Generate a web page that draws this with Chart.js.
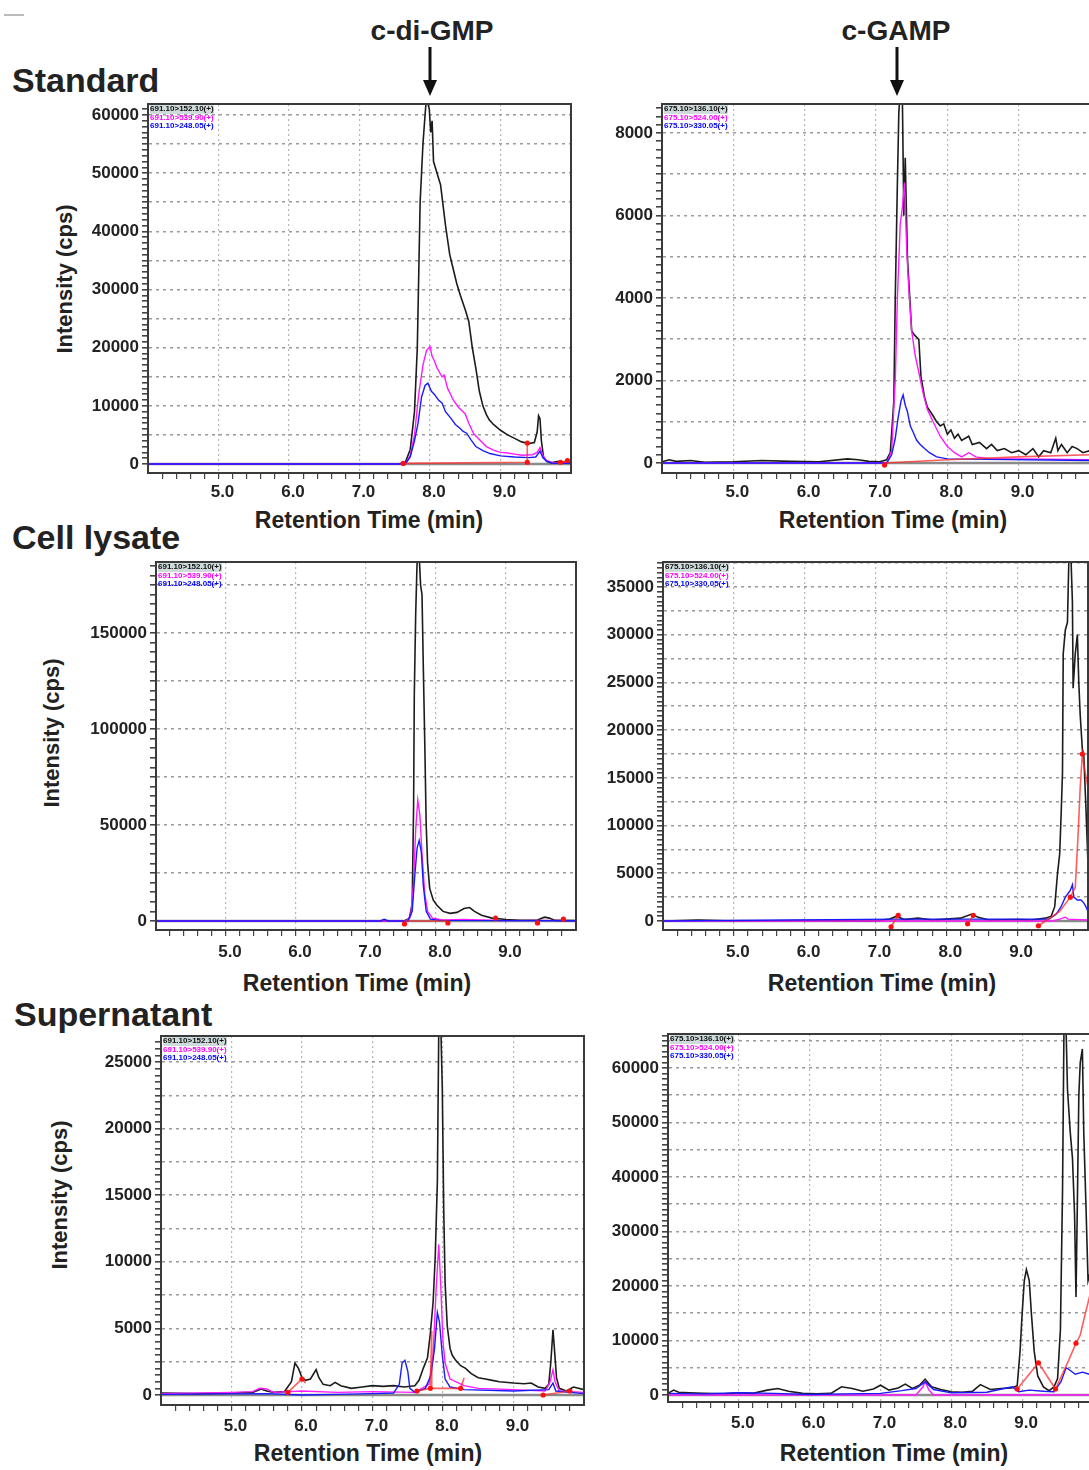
<!DOCTYPE html>
<html>
<head>
<meta charset="utf-8">
<script src="https://cdn.jsdelivr.net/npm/chart.js@4.4.1/dist/chart.umd.min.js"></script>
<style>
  html, body { margin: 0; padding: 0; background: #fff; overflow: hidden; }
  #page { position: relative; width: 1089px; height: 1470px; overflow: hidden; font-family: "Liberation Sans", Arial, sans-serif; color: #222; }
  #page canvas { position: absolute; }
  .lbl { position: absolute; font-weight: bold; line-height: 1; white-space: nowrap; }
  .rowname { font-size: 34px; }
  .compound { font-size: 28px; transform: translateX(-50%); }
  .xtitle { font-size: 23px; transform: translateX(-50%); }
  .ytitle { font-size: 22px; transform: translate(-50%, -50%) rotate(-90deg); }
  .legend { position: absolute; font-size: 8px; line-height: 8.5px; font-weight: bold; white-space: nowrap; }
  .legend div:first-child { background: #cfdada; }
</style>
</head>
<body>
<div id="page">
  <div style="position:absolute;left:4px;top:14px;width:20px;height:2px;background:#bbb"></div>
  <div class="lbl compound" style="left:432px;top:17px">c-di-GMP</div>
  <div class="lbl compound" style="left:896px;top:17px">c-GAMP</div>
  <svg style="position:absolute;left:0;top:0" width="1089" height="110">
    <g stroke="#111" stroke-width="3" fill="#111">
      <line x1="430" y1="47" x2="430" y2="84" />
      <polygon points="423,80 437,80 430,96" stroke="none" />
      <line x1="897" y1="47" x2="897" y2="84" />
      <polygon points="890,80 904,80 897,96" stroke="none" />
    </g>
  </svg>
  <div class="lbl rowname" style="left:12px;top:63px">Standard</div>
  <div class="lbl rowname" style="left:12px;top:520px">Cell lysate</div>
  <div class="lbl rowname" style="left:14px;top:997px">Supernatant</div>

  <div class="lbl xtitle" style="left:369px;top:509px">Retention Time (min)</div>
  <div class="lbl xtitle" style="left:893px;top:509px">Retention Time (min)</div>
  <div class="lbl xtitle" style="left:357px;top:972px">Retention Time (min)</div>
  <div class="lbl xtitle" style="left:882px;top:972px">Retention Time (min)</div>
  <div class="lbl xtitle" style="left:368px;top:1442px">Retention Time (min)</div>
  <div class="lbl xtitle" style="left:894px;top:1442px">Retention Time (min)</div>

  <div class="lbl ytitle" style="left:65px;top:279px">Intensity (cps)</div>
  <div class="lbl ytitle" style="left:52px;top:733px">Intensity (cps)</div>
  <div class="lbl ytitle" style="left:60px;top:1195px">Intensity (cps)</div>
</div>

<script>
// retention time axis
const timeLabels = [5, 6, 7, 8, 9];

// MRM transitions shown in each panel
const gmpTransitions = ['691.10>152.10(+)', '691.10>539.90(+)', '691.10>248.05(+)'];
const gampTransitions = ['675.10>136.10(+)', '675.10>524.00(+)', '675.10>330.05(+)'];

// y tick labels
const stdGmpYLabels = [0, 10000, 20000, 30000, 40000, 50000, 60000];
const stdGampYLabels = [0, 2000, 4000, 6000, 8000];
const lysGmpYLabels = [0, 50000, 100000, 150000];
const lysGampYLabels = [0, 5000, 10000, 15000, 20000, 25000, 30000, 35000];
const supGmpYLabels = [0, 5000, 10000, 15000, 20000, 25000];
const supGampYLabels = [0, 10000, 20000, 30000, 40000, 50000, 60000];

// ---- Standard, c-di-GMP ----  [time (min), intensity (cps)]
const stdGmpA = [[4.0,0],[7.55,0],[7.65,300],[7.72,2500],[7.78,9000],[7.82,20000],[7.86,45000],[7.9,55000],[7.93,60000],[7.95,63000],[7.99,61000],[8.01,57000],[8.03,59000],[8.05,52000],[8.1,50000],[8.15,48000],[8.17,46000],[8.22,41000],[8.28,36000],[8.32,34000],[8.38,31000],[8.43,29000],[8.5,26500],[8.55,24500],[8.6,20000],[8.65,16500],[8.7,12500],[8.75,10000],[8.8,8500],[8.84,7600],[8.9,6800],[9.0,5800],[9.1,5000],[9.2,4400],[9.3,3800],[9.4,3500],[9.48,3700],[9.52,5500],[9.54,8300],[9.56,7800],[9.58,4000],[9.61,1200],[9.66,400],[9.72,200],[9.8,400],[10.0,300]];
const stdGmpB = [[4.0,0],[7.65,0],[7.72,1500],[7.78,5000],[7.84,12000],[7.9,17000],[7.95,19500],[8.0,20200],[8.03,18500],[8.06,17800],[8.1,16500],[8.17,15000],[8.2,15300],[8.25,13000],[8.33,11000],[8.4,9800],[8.5,8600],[8.55,7000],[8.62,5200],[8.7,4200],[8.8,3000],[8.9,2400],[9.0,2000],[9.1,1900],[9.2,1700],[9.3,1500],[9.45,1600],[9.52,2000],[9.56,2800],[9.6,1500],[9.65,600],[9.75,200],[10.0,200]];
const stdGmpC = [[4.0,0],[7.65,0],[7.72,1200],[7.78,4000],[7.83,7000],[7.88,11500],[7.93,13500],[7.97,13900],[8.02,12500],[8.06,12000],[8.12,11000],[8.17,10500],[8.22,9000],[8.3,7800],[8.36,6800],[8.42,6200],[8.47,5600],[8.52,5300],[8.58,4200],[8.65,3000],[8.75,2300],[8.85,1800],[9.0,1400],[9.2,1200],[9.4,1100],[9.5,1200],[9.56,2200],[9.6,1100],[9.65,500],[9.75,100],[10.0,100]];
const stdGmpBase = [[7.62,100],[9.38,300],[9.38,3600],[9.6,null],[9.82,300],[10.0,500]];
const stdGmpMarks = [[7.62,100],[9.38,300],[9.38,3600],[9.85,300],[9.95,600]];

// ---- Standard, c-GAMP ----
const stdGampA = [[4.0,30],[4.1,80],[4.2,40],[4.4,60],[4.6,20],[5.0,30],[5.4,60],[5.8,40],[6.2,30],[6.6,100],[6.75,80],[6.9,40],[7.05,30],[7.15,80],[7.2,250],[7.25,1500],[7.27,4000],[7.3,6800],[7.32,8500],[7.34,9000],[7.37,8800],[7.39,6000],[7.41,7400],[7.44,5000],[7.47,4100],[7.5,3200],[7.54,3100],[7.6,3000],[7.63,2100],[7.68,1600],[7.72,1350],[7.78,1200],[7.85,1000],[7.9,900],[7.95,950],[8.0,700],[8.05,800],[8.1,600],[8.15,700],[8.2,550],[8.3,650],[8.35,450],[8.45,500],[8.55,350],[8.62,450],[8.7,300],[8.8,350],[8.9,250],[9.0,300],[9.1,200],[9.2,350],[9.28,150],[9.35,300],[9.45,250],[9.52,600],[9.55,300],[9.6,450],[9.68,250],[9.75,400],[9.82,350],[9.9,250],[10.0,300]];
const stdGampB = [[4.0,0],[7.15,0],[7.22,300],[7.27,2000],[7.3,4000],[7.34,5800],[7.37,6200],[7.4,6800],[7.43,5200],[7.46,4200],[7.5,3200],[7.55,2600],[7.6,2200],[7.66,1700],[7.72,1300],[7.8,1000],[7.9,650],[8.0,400],[8.1,250],[8.2,150],[8.3,250],[8.4,150],[8.6,100],[9.0,100],[10.0,80]];
const stdGampC = [[4.0,0],[7.15,0],[7.22,200],[7.27,600],[7.31,1100],[7.35,1500],[7.38,1650],[7.41,1400],[7.44,1250],[7.48,900],[7.52,750],[7.57,550],[7.62,450],[7.68,350],[7.75,250],[7.85,150],[8.0,100],[10.0,60]];
const stdGampBase = [[7.12,0],[8.0,80],[9.0,150],[10.0,200]];
const stdGampMarks = [[7.12,-50]];

// ---- Cell lysate, c-di-GMP ----
const lysGmpA = [[4.0,0],[7.55,0],[7.62,1500],[7.66,9000],[7.68,60000],[7.69,118000],[7.71,160000],[7.73,187000],[7.76,190000],[7.78,175000],[7.8,170000],[7.82,130000],[7.84,92000],[7.86,50000],[7.88,30000],[7.91,17000],[7.96,11000],[8.01,8300],[8.1,5000],[8.2,4000],[8.3,4500],[8.4,6500],[8.48,7000],[8.55,5000],[8.65,3000],[8.8,1500],[9.0,800],[9.2,400],[9.45,500],[9.55,2000],[9.62,1500],[9.7,300],[10.0,200]];
const lysGmpB = [[4.0,0],[7.58,0],[7.64,3000],[7.68,20000],[7.71,48000],[7.74,63000],[7.77,55000],[7.8,35000],[7.84,14000],[7.88,5000],[7.95,1500],[8.1,500],[8.4,800],[9.0,200],[9.5,300],[10.0,200]];
const lysGmpC = [[4.0,0],[7.2,0],[7.26,900],[7.32,0],[7.6,0],[7.66,5000],[7.7,25000],[7.73,38000],[7.76,42000],[7.79,36000],[7.82,18000],[7.86,5000],[7.92,1000],[8.05,300],[10.0,100]];
const lysGmpBase = [[7.55,0],[8.17,0]];
const lysGmpMarks = [[7.55,-1500],[8.17,-1000],[8.85,1500],[9.45,-1000],[9.82,1000]];

// ---- Cell lysate, c-GAMP ----
const lysGampA = [[4.0,0],[4.5,100],[5.0,0],[6.0,50],[7.0,0],[7.2,200],[7.3,500],[7.4,150],[7.6,300],[7.8,100],[8.0,200],[8.2,300],[8.35,700],[8.45,400],[8.6,100],[9.0,150],[9.2,100],[9.4,300],[9.48,500],[9.53,1500],[9.57,5000],[9.6,7000],[9.62,11000],[9.64,15600],[9.65,28000],[9.68,30500],[9.71,31300],[9.73,38000],[9.76,38000],[9.78,33400],[9.79,24400],[9.82,28000],[9.85,30000],[9.87,25000],[9.89,21600],[9.92,18000],[9.94,17400],[9.97,12000],[10.0,5900]];
const lysGampB = [[4.0,0],[9.5,0],[9.6,200],[9.68,400],[9.72,200],[10.0,100]];
const lysGampC = [[4.0,0],[7.3,200],[8.4,200],[9.45,200],[9.55,700],[9.62,1500],[9.68,2500],[9.71,2800],[9.75,3200],[9.78,3800],[9.8,2500],[9.85,2200],[9.9,2200],[9.94,1900],[9.97,1500],[10.0,1000]];
const lysGampBase = [[7.22,-600],[7.32,600],[7.4,null],[8.3,-300],[8.38,600],[8.5,null],[9.3,-500],[9.6,1000],[9.75,2500],[9.82,3500],[9.86,9000],[9.89,14000],[9.92,17500],[9.95,16000],[10.0,14000]];
const lysGampMarks = [[7.22,-600],[7.32,600],[8.3,-300],[8.38,600],[9.3,-500],[9.75,2500],[9.92,17500]];

// ---- Supernatant, c-di-GMP ----
const supGmpA = [[4.0,150],[4.5,100],[5.0,150],[5.3,200],[5.42,450],[5.5,300],[5.6,200],[5.75,250],[5.85,1000],[5.9,2400],[5.95,2000],[6.0,1300],[6.05,1100],[6.12,1200],[6.2,1900],[6.24,1300],[6.3,800],[6.4,700],[6.47,950],[6.55,700],[6.7,500],[6.85,600],[7.0,700],[7.15,650],[7.3,700],[7.45,600],[7.6,700],[7.66,1100],[7.72,2000],[7.78,2800],[7.82,4600],[7.86,7000],[7.89,10400],[7.92,16000],[7.94,27500],[7.97,27500],[7.99,23000],[8.01,14000],[8.03,8400],[8.06,5200],[8.1,3500],[8.13,3000],[8.18,2600],[8.25,2200],[8.32,2000],[8.4,1600],[8.5,1300],[8.6,1200],[8.7,1100],[8.8,1000],[9.0,900],[9.15,850],[9.25,900],[9.35,600],[9.45,500],[9.5,800],[9.53,2500],[9.56,4900],[9.58,3500],[9.61,1300],[9.65,500],[9.75,300],[9.85,600],[10.0,400]];
const supGmpB = [[4.0,100],[5.0,200],[5.3,250],[5.4,500],[5.5,450],[5.6,200],[6.0,300],[6.5,200],[7.0,250],[7.6,200],[7.8,800],[7.86,3000],[7.9,7700],[7.94,11300],[7.97,8000],[8.0,4000],[8.03,2400],[8.1,1200],[8.3,700],[8.5,500],[9.0,400],[9.45,300],[9.52,1000],[9.56,1900],[9.59,1000],[9.65,300],[10.0,200]];
const supGmpC = [[4.0,50],[5.5,100],[6.0,0],[6.5,50],[7.0,100],[7.3,150],[7.38,800],[7.42,2400],[7.46,2600],[7.5,1800],[7.53,500],[7.6,200],[7.75,500],[7.83,1500],[7.88,3500],[7.92,6200],[7.95,5500],[7.99,3000],[8.03,1200],[8.1,600],[8.3,400],[9.0,300],[9.5,400],[9.56,900],[9.6,300],[10.0,100]];
const supGmpBase = [[5.8,200],[6.0,1200],[6.05,900],[6.2,null],[7.63,300],[7.82,500],[7.84,4800],[7.84,500],[8.25,500],[8.3,1300],[8.4,null],[9.42,0],[9.8,300]];
const supGmpMarks = [[5.8,200],[6.0,1200],[7.63,300],[7.82,500],[8.25,500],[9.42,0],[9.8,300]];

// ---- Supernatant, c-GAMP ----
const supGampA = [[4.0,300],[4.08,900],[4.15,500],[4.3,400],[4.5,300],[4.8,200],[5.0,400],[5.2,300],[5.4,900],[5.55,1200],[5.7,700],[5.9,300],[6.1,200],[6.3,300],[6.45,1500],[6.6,1200],[6.75,700],[6.9,1100],[7.0,1800],[7.12,900],[7.25,1300],[7.35,2000],[7.45,1200],[7.55,1800],[7.63,2900],[7.72,1500],[7.85,1000],[8.0,600],[8.15,500],[8.3,700],[8.41,1900],[8.55,1000],[8.7,1200],[8.85,1300],[8.93,1700],[8.97,8000],[9.0,15000],[9.03,21000],[9.06,23000],[9.1,21000],[9.13,15000],[9.17,8000],[9.22,3500],[9.3,1500],[9.38,800],[9.45,1500],[9.5,3000],[9.54,12000],[9.57,37600],[9.59,67000],[9.62,67000],[9.64,56000],[9.68,48000],[9.71,43500],[9.74,33000],[9.76,18000],[9.78,36000],[9.8,55000],[9.82,61000],[9.85,63500],[9.87,48000],[9.9,35000],[9.93,21000],[9.97,23000],[10.0,20000]];
const supGampB = [[4.0,0],[7.5,0],[7.6,1500],[7.63,2500],[7.68,1000],[7.75,0],[10.0,0]];
const supGampC = [[4.0,300],[4.5,200],[5.0,400],[5.5,300],[6.0,100],[6.5,200],[7.0,300],[7.3,800],[7.5,1200],[7.63,2400],[7.75,1000],[8.0,400],[8.5,500],[8.86,1500],[8.95,600],[9.1,900],[9.3,700],[9.45,600],[9.55,2500],[9.62,5000],[9.68,4500],[9.75,3800],[9.85,4200],[9.95,3800],[10.0,3600]];
const supGampBase = [[8.93,1100],[9.23,5900],[9.47,1100],[9.64,5900],[9.76,9500],[9.82,11000],[9.87,13800],[9.95,18000],[10.0,20500]];
const supGampMarks = [[8.93,1100],[9.23,5900],[9.47,1100],[9.76,9500]];

const AX_W = 110, AX_H = 40, PAD = 6;

// plot-box placement on the page (left, right, top, bottom of the frame) and axis ranges
const panels = [
  { L: 148, R: 571, T: 104, B: 473, xPad: 3, yMin: -1547, yMax: 61890, grid: 5000, yLabels: stdGmpYLabels, lines: [stdGmpA, stdGmpB, stdGmpC], base: stdGmpBase, marks: stdGmpMarks, legend: gmpTransitions },
  { L: 662, R: 1090, T: 104, B: 473, xPad: 3, yMin: -242, yMax: 8703, grid: 1000, yLabels: stdGampYLabels, lines: [stdGampA, stdGampB, stdGampC], base: stdGampBase, marks: stdGampMarks, legend: gampTransitions },
  { L: 156, R: 576, T: 562, B: 930, xPad: 6, yMin: -4688, yMax: 186979, grid: 25000, yLabels: lysGmpYLabels, lines: [lysGmpA, lysGmpB, lysGmpC], base: lysGmpBase, marks: lysGmpMarks, legend: gmpTransitions },
  { L: 663, R: 1088, T: 562, B: 930, xPad: 6, yMin: -943, yMax: 37619, grid: 2500, yLabels: lysGampYLabels, lines: [lysGampA, lysGampB, lysGampC], base: lysGampBase, marks: lysGampMarks, legend: gampTransitions },
  { L: 161, R: 584, T: 1036, B: 1405, xPad: 5, yMin: -751, yMax: 26952, grid: 2500, yLabels: supGmpYLabels, lines: [supGmpA, supGmpB, supGmpC], base: supGmpBase, marks: supGmpMarks, legend: gmpTransitions },
  { L: 668, R: 1093, T: 1034, B: 1402, xPad: 5, yMin: -1284, yMax: 66239, grid: 5000, yLabels: supGampYLabels, lines: [supGampA, supGampB, supGampC], base: supGampBase, marks: supGampMarks, legend: gampTransitions }
];

const traceColors = ['#1c1c1c', '#ff1aff', '#1a1aff'];
const legendColors = ['#111', '#ff00ff', '#0000ff'];

function toPoints(pairs) {
    return pairs.map(function (p) { return { x: p[0], y: p[1] }; });
}

// top/right frame and the zero line
const framePlugin = {
    id: 'frame',
    beforeDatasetsDraw(chart) {
        const { ctx, chartArea: a, scales } = chart;
        const y0 = scales.y.getPixelForValue(0);
        ctx.save();
        ctx.strokeStyle = '#8a8a8a';
        ctx.lineWidth = 2.5;
        ctx.beginPath();
        ctx.moveTo(a.left, y0);
        ctx.lineTo(a.right, y0);
        ctx.stroke();
        ctx.restore();
    },
    afterDraw(chart) {
        const { ctx, chartArea: a } = chart;
        ctx.save();
        ctx.strokeStyle = '#3a3a3a';
        ctx.lineWidth = 2;
        ctx.strokeRect(a.left, a.top, a.right - a.left, a.bottom - a.top);
        ctx.restore();
    }
};

document.addEventListener("DOMContentLoaded", function () {
    const page = document.getElementById('page');
    Chart.defaults.font.family = '"Liberation Sans", Arial, sans-serif';
    Chart.defaults.color = '#222';

    const xTicks = [];
    for (let k = 21; k <= 49; k++) xTicks.push(k / 5);

    panels.forEach(function (p) {
        const canvas = document.createElement('canvas');
        const w = p.R - p.L + AX_W + PAD;
        const h = p.B - p.T + PAD + AX_H;
        canvas.width = w;
        canvas.height = h;
        canvas.style.width = w + 'px';
        canvas.style.height = h + 'px';
        canvas.style.left = (p.L - AX_W) + 'px';
        canvas.style.top = (p.T - PAD) + 'px';
        page.appendChild(canvas);

        const yTicks = [];
        for (let v = 0; v <= p.yMax; v += p.grid / 5) yTicks.push(v);

        const datasets = [
            { data: toPoints(p.marks), showLine: false, pointRadius: 2.6, pointBackgroundColor: '#ff1010', pointBorderWidth: 0 },
            { data: toPoints(p.base), borderColor: 'rgba(255,40,40,0.75)', borderWidth: 1.6, pointRadius: 0, spanGaps: false }
        ];
        // blue drawn over magenta, magenta over black
        for (let i = 2; i >= 0; i--) {
            datasets.push({ data: toPoints(p.lines[i]), borderColor: traceColors[i], borderWidth: i === 0 ? 1.6 : 1.4, pointRadius: 0 });
        }

        new Chart(canvas, {
            type: 'line',
            data: { datasets: datasets },
            options: {
                responsive: false,
                animation: false,
                events: [],
                layout: { padding: { top: PAD, right: PAD, left: 0, bottom: 0 } },
                elements: { line: { tension: 0 } },
                plugins: { legend: { display: false }, tooltip: { enabled: false } },
                scales: {
                    x: {
                        type: 'linear',
                        min: 4,
                        max: 10,
                        afterFit: function (s) {
                            s.height = AX_H;
                            s.paddingLeft = 0;
                            s.paddingRight = 0;
                        },
                        afterBuildTicks: function (s) { s.ticks = xTicks.map(function (v) { return { value: v }; }); },
                        ticks: {
                            autoSkip: false,
                            maxRotation: 0,
                            padding: p.xPad,
                            labelOffset: 4,
                            font: { size: 17, weight: 'bold' },
                            callback: function (v) {
                                return timeLabels.includes(Math.round(v * 100) / 100) ? Number(v).toFixed(1) : '';
                            }
                        },
                        grid: {
                            color: function (ctx) {
                                const v = ctx.tick ? ctx.tick.value : 0;
                                return Math.abs(v - Math.round(v)) < 1e-6 ? '#b5b5b5' : 'rgba(0,0,0,0)';
                            },
                            lineWidth: 1.2,
                            tickColor: '#444',
                            tickLength: 6
                        },
                        border: { color: '#333', width: 2, dash: [2, 3] }
                    },
                    y: {
                        type: 'linear',
                        min: p.yMin,
                        max: p.yMax,
                        afterFit: function (s) {
                            s.width = AX_W;
                            s.paddingTop = 0;
                            s.paddingBottom = 0;
                        },
                        afterBuildTicks: function (s) { s.ticks = yTicks.map(function (v) { return { value: v }; }); },
                        ticks: {
                            autoSkip: false,
                            padding: 3,
                            font: { size: 17, weight: 'bold' },
                            callback: function (v) { return p.yLabels.includes(v) ? String(v) : ''; }
                        },
                        grid: {
                            color: function (ctx) {
                                const v = ctx.tick ? ctx.tick.value : 1;
                                return v !== 0 && Math.round(v) % p.grid === 0 ? '#9a9a9a' : 'rgba(0,0,0,0)';
                            },
                            lineWidth: 1.6,
                            tickColor: '#444',
                            tickLength: 6
                        },
                        border: { color: '#333', width: 2, dash: [3, 4] }
                    }
                }
            },
            plugins: [framePlugin]
        });

        // transition legend in the top-left corner of the plot
        const legend = document.createElement('div');
        legend.className = 'legend';
        legend.style.left = (p.L + 2) + 'px';
        legend.style.top = (p.T + 1) + 'px';
        p.legend.forEach(function (text, i) {
            const row = document.createElement('div');
            row.textContent = text;
            row.style.color = legendColors[i];
            legend.appendChild(row);
        });
        page.appendChild(legend);
    });
});
</script>
</body>
</html>
